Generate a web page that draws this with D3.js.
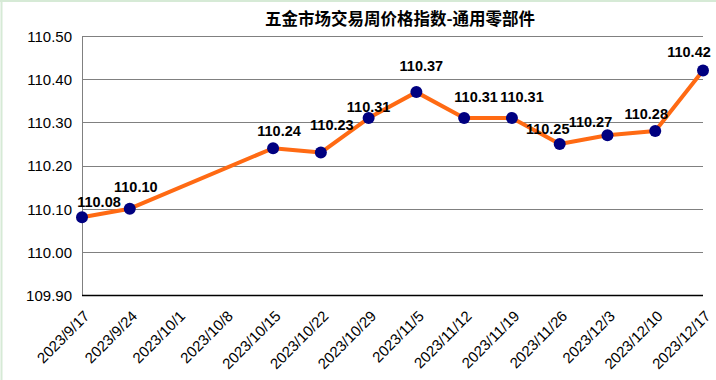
<!DOCTYPE html>
<html>
<head>
<meta charset="utf-8">
<script src="https://cdn.jsdelivr.net/npm/d3@7"></script>
<style>
  html, body { margin: 0; padding: 0; background: #ffffff; }
  svg { display: block; }
</style>
</head>
<body>
<svg id="chart" width="716" height="380"></svg>
<script>
const title = "五金市场交易周价格指数-通用零部件";
const categories = ["2023/9/17","2023/9/24","2023/10/1","2023/10/8","2023/10/15","2023/10/22","2023/10/29","2023/11/5","2023/11/12","2023/11/19","2023/11/26","2023/12/3","2023/12/10","2023/12/17"];
const values = [110.08, 110.10, null, null, 110.24, 110.23, 110.31, 110.37, 110.31, 110.31, 110.25, 110.27, 110.28, 110.42];
const yTicks = [109.90, 110.00, 110.10, 110.20, 110.30, 110.40, 110.50];
// label nudges (annotation placement, px)
const labelDx = [17, 6, 0, 0, 6, 11, 0, 5, 12, 10, -12, -17, -9, -14];
const labelDy = [-10, -17, 0, 0, -12, -23, -6, -21, -16, -16, -10, -8, -12, -14];

const svg = d3.select("#chart");
const W = 716, H = 380;
const plot = { left: 82, right: 703, top: 36, bottom: 295 };

// page edge (light green)
svg.append("rect").attr("x", 0).attr("y", 0).attr("width", W).attr("height", H).attr("fill", "#fff");
svg.append("line").attr("x1", 0).attr("x2", W).attr("y1", 1).attr("y2", 1).attr("stroke", "#d6ead6").attr("stroke-width", 2);
svg.append("line").attr("x1", 1.5).attr("x2", 1.5).attr("y1", 0).attr("y2", H).attr("stroke", "#d6ead6").attr("stroke-width", 2);

const x = d3.scalePoint().domain(categories).range([plot.left, plot.right]);
const y = d3.scaleLinear().domain([109.9, 110.5]).range([plot.bottom, plot.top]);

// gridlines
svg.append("g").selectAll("line").data(yTicks.slice(1)).join("line")
  .attr("x1", plot.left).attr("x2", plot.right)
  .attr("y1", d => Math.round(y(d)) + 0.5).attr("y2", d => Math.round(y(d)) + 0.5)
  .attr("stroke", "#808080").attr("stroke-width", 1);

// left axis line
svg.append("line").attr("x1", plot.left + 0.5).attr("x2", plot.left + 0.5)
  .attr("y1", plot.top).attr("y2", plot.bottom).attr("stroke", "#808080");
// bottom axis line
svg.append("line").attr("x1", plot.left).attr("x2", plot.right)
  .attr("y1", plot.bottom + 0.5).attr("y2", plot.bottom + 0.5).attr("stroke", "#000").attr("stroke-width", 1.5);

// y axis labels
const yAxis = d3.axisLeft(y).tickValues(yTicks).tickFormat(d3.format(".2f")).tickSize(0).tickPadding(10);
const gy = svg.append("g").attr("transform", `translate(${plot.left},0)`).call(yAxis);
gy.select(".domain").remove();
gy.selectAll("text").attr("font-family", "Liberation Sans, Arial, sans-serif").attr("font-size", 15).attr("fill", "#000").attr("dy", "0.36em");

// x axis labels
const xAxis = d3.axisBottom(x).tickSize(0).tickPadding(0);
const gx = svg.append("g").attr("transform", `translate(0,${plot.bottom})`).call(xAxis);
gx.select(".domain").remove();
gx.selectAll("text")
  .attr("font-family", "Liberation Sans, Arial, sans-serif").attr("font-size", 15).attr("fill", "#000")
  .attr("text-anchor", "end").attr("dy", 0).attr("y", 0)
  .attr("transform", "translate(8,22) rotate(-45)");

// line
const pts = categories.map((c, i) => ({ c, v: values[i], i })).filter(d => d.v !== null);
const line = d3.line().x(d => x(d.c)).y(d => y(d.v));
svg.append("path").datum(pts).attr("d", line)
  .attr("fill", "none").attr("stroke", "#ff6a13").attr("stroke-width", 4).attr("stroke-linejoin", "round");

// markers
svg.append("g").selectAll("circle").data(pts).join("circle")
  .attr("cx", d => x(d.c)).attr("cy", d => y(d.v)).attr("r", 6)
  .attr("fill", "#000080");

// data labels
svg.append("g").selectAll("text").data(pts).join("text")
  .attr("x", d => x(d.c) + labelDx[d.i]).attr("y", d => y(d.v) + labelDy[d.i])
  .attr("text-anchor", "middle")
  .attr("font-family", "Liberation Sans, Arial, sans-serif").attr("font-size", 14.5).attr("font-weight", "bold")
  .attr("fill", "#000")
  .text(d => d3.format(".2f")(d.v));

// title
svg.append("text").attr("x", 400).attr("y", 25).attr("text-anchor", "middle")
  .attr("font-family", "Noto Sans CJK SC, sans-serif").attr("font-size", 16.5).attr("font-weight", "bold")
  .attr("fill", "#000").text(title);
</script>
</body>
</html>
